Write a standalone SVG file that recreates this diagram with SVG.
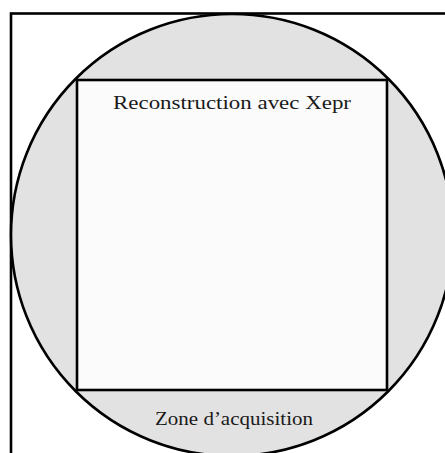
<svg xmlns="http://www.w3.org/2000/svg" width="445" height="453" viewBox="0 0 445 453">
<style>
.ln{stroke:#000;stroke-width:2.6;}
.lbl{font-family:"Liberation Serif","DejaVu Serif",serif;font-size:18px;fill:#1a1a1a;}
</style>
<rect width="445" height="453" fill="#fff"/>
<g id="cadre"><rect class="ln" x="11" y="13.5" width="460" height="460" fill="none"/></g>
<g id="zone-acquisition">
<ellipse class="ln" cx="232" cy="235" rx="221" ry="221" fill="#e2e2e2"/>
<text class="lbl" x="234" y="425" text-anchor="middle" textLength="158" lengthAdjust="spacingAndGlyphs">Zone d’acquisition</text>
</g>
<g id="reconstruction">
<rect class="ln" x="77" y="80" width="310" height="310" fill="#fbfbfb"/>
<text class="lbl" x="232" y="109" text-anchor="middle" textLength="238" lengthAdjust="spacingAndGlyphs">Reconstruction avec Xepr</text>
</g>
<g id="connecteurs"/>
</svg>
